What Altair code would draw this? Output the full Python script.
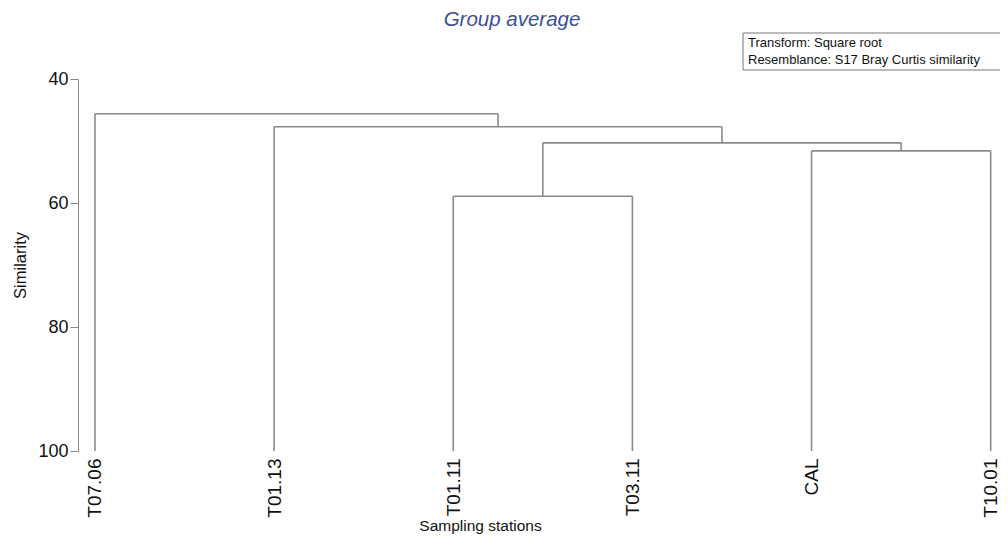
import json
import altair as alt
import pandas as pd

# ---- data ----
leaves = ["T07.06", "T01.13", "T01.11", "T03.11", "CAL", "T10.01"]
# merges: (left child, right child, similarity). children: leaf name or "c<k>" (k = merge index)
merge_left = ["T01.11", "CAL", "c0", "T01.13", "T07.06"]
merge_right = ["T03.11", "T10.01", "c1", "c2", "c3"]
merge_sim = [58.9, 51.6, 50.3, 47.7, 45.6]
y_ticks = [40, 60, 80, 100]
title_text = "Group average"
note_lines = ["Transform: Square root", "Resemblance: S17 Bray Curtis similarity"]
x_title = "Sampling stations"
y_title = "Similarity"

# ---- build dendrogram segments ----
pos = {name: float(i) for i, name in enumerate(leaves)}
height = {name: 100.0 for name in leaves}
segs = []
for k, (a, b, s) in enumerate(zip(merge_left, merge_right, merge_sim)):
    xa, xb = pos[a], pos[b]
    segs.append({"x": xa, "x2": xa, "y": height[a], "y2": s})
    segs.append({"x": xb, "x2": xb, "y": height[b], "y2": s})
    segs.append({"x": xa, "x2": xb, "y": s, "y2": s})
    pos[f"c{k}"] = (xa + xb) / 2
    height[f"c{k}"] = s
df = pd.DataFrame(segs)

GREY = "#8a8a8a"
FONT = "Liberation Sans"
W, H = 922, 372

label_expr = json.dumps(leaves) + "[datum.value]"

xscale = alt.Scale(domain=[-0.0947, 5.052], nice=False, zero=False)
yscale = alt.Scale(domain=[40, 100], reverse=True, nice=False, zero=False)

lines = alt.Chart(df).mark_rule(color=GREY, strokeWidth=1.6).encode(
    x=alt.X("x:Q", scale=xscale,
            axis=alt.Axis(values=list(range(len(leaves))), labelExpr=label_expr,
                          labelAngle=-90, labelFontSize=19, labelColor="#111",
                          labelFont=FONT, labelPadding=7, ticks=False,
                          domain=False, grid=False, title=x_title, titleFont=FONT,
                          titleFontSize=15.5, titleFontWeight="normal", titleColor="#111",
                          titleX=402, titleY=79, titleBaseline="alphabetic")),
    x2="x2:Q",
    y=alt.Y("y:Q", scale=yscale,
            axis=alt.Axis(values=y_ticks, grid=False, domainColor=GREY, tickColor=GREY,
                          tickSize=8, labelFontSize=18, labelFont=FONT, labelColor="#111",
                          labelPadding=2, title=y_title, titleFont=FONT, titleFontSize=16.5,
                          titleFontWeight="normal", titleColor="#111", titlePadding=9)),
    y2="y2:Q",
)

box = alt.Chart(pd.DataFrame({"k": [0]})).mark_rect(
    fill="white", stroke="#777", strokeWidth=1
).encode(x=alt.value(665), x2=alt.value(935), y=alt.value(-46), y2=alt.value(-9))

t1 = alt.Chart(pd.DataFrame({"k": [0]})).mark_text(
    align="left", baseline="alphabetic", font=FONT, fontSize=13, color="#111",
    text=note_lines[0]
).encode(x=alt.value(670), y=alt.value(-32))
t2 = alt.Chart(pd.DataFrame({"k": [0]})).mark_text(
    align="left", baseline="alphabetic", font=FONT, fontSize=13, color="#111",
    text=note_lines[1]
).encode(x=alt.value(670), y=alt.value(-15))

chart = alt.layer(lines, box, t1, t2).properties(
    width=W, height=H,
    autosize=alt.AutoSizeParams(type="none"),
    padding={"left": 70, "top": 71, "right": 0, "bottom": 83},
    title=alt.TitleParams(text=title_text, font=FONT, fontSize=20.5, fontStyle="italic",
                          fontWeight="normal", color="#3d4f96", anchor="middle",
                          dx=-27, offset=2),
).configure_view(stroke=None)

chart.save("out.html", embed_options={"renderer": "svg", "actions": False})
